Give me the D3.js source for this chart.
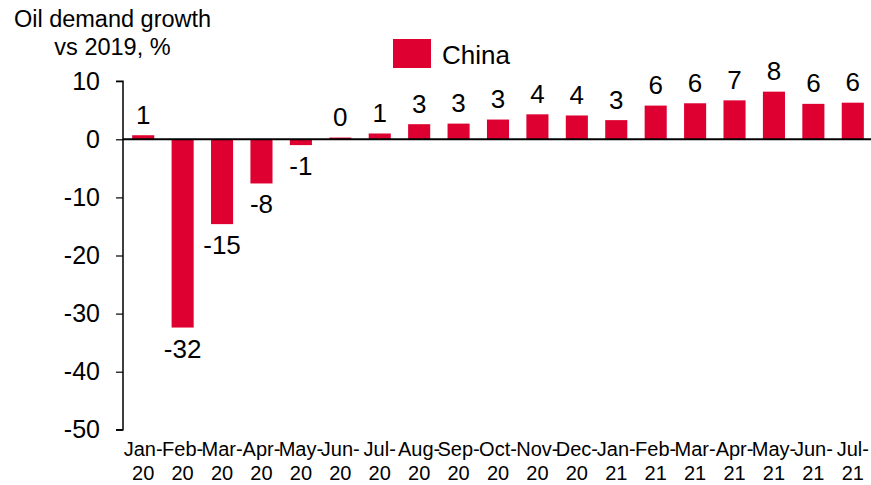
<!DOCTYPE html>
<html>
<head>
<meta charset="utf-8">
<script src="https://cdn.jsdelivr.net/npm/d3@7"></script>
<style>
  html, body { margin: 0; padding: 0; background: #fff; }
  svg { display: block; font-family: "Liberation Sans", Arial, sans-serif; }
</style>
</head>
<body>
<svg id="chart" width="871" height="485"></svg>
<script>
// Monthly oil demand growth in China vs the same month of 2019, %
const months = ["Jan", "Feb", "Mar", "Apr", "May", "Jun", "Jul", "Aug", "Sep", "Oct",
                "Nov", "Dec", "Jan", "Feb", "Mar", "Apr", "May", "Jun", "Jul"];
const years  = ["20", "20", "20", "20", "20", "20", "20", "20", "20", "20",
                "20", "20", "21", "21", "21", "21", "21", "21", "21"];
const china  = [0.7, -32.4, -14.6, -7.6, -1.0, 0.3, 1.0, 2.6, 2.7, 3.4,
                4.3, 4.1, 3.3, 5.8, 6.2, 6.7, 8.2, 6.1, 6.3];
const yTicks = [10, 0, -10, -20, -30, -40, -50];
const seriesName = "China";
const titleLines = ["Oil demand growth", "vs 2019, %"];

const RED = "#DD0031";
const svg = d3.select("#chart");

const keys = months.map((m, i) => i);
const x = d3.scaleBand()
  .domain(keys)
  .range([123.5, 872.5])
  .paddingInner(0.44)
  .paddingOuter(0.22);

const y = d3.scaleLinear()
  .domain([-50, 10])
  .range([429.8, 81.2]);

const fmt = v => String(Math.round(v));

// bars
svg.append("g")
  .selectAll("rect")
  .data(china)
  .join("rect")
  .attr("x", (d, i) => x(i))
  .attr("width", x.bandwidth())
  .attr("y", d => y(Math.max(0, d)))
  .attr("height", d => Math.abs(y(d) - y(0)))
  .attr("fill", RED);

// value labels: above positive bars, below negative ones
svg.append("g")
  .selectAll("text")
  .data(china)
  .join("text")
  .attr("x", (d, i) => x(i) + x.bandwidth() / 2)
  .attr("y", d => d >= 0 ? y(d) - 11.5 : y(d) + 30)
  .attr("text-anchor", "middle")
  .attr("font-size", 26)
  .attr("fill", "#000")
  .text(fmt);

// y axis
const yAxis = d3.axisLeft(y)
  .tickValues(yTicks)
  .tickSize(7)
  .tickPadding(16)
  .tickFormat(d => String(d));
const gy = svg.append("g")
  .attr("transform", "translate(123,0)")
  .call(yAxis);
gy.select(".domain").attr("stroke", "#000").attr("stroke-width", 1.5)
  .attr("d", `M-7,${y(10)}H0V${y(-50)}H-7`);
gy.selectAll(".tick line").attr("stroke", "#000").attr("stroke-width", 1.2);
gy.selectAll(".tick text")
  .attr("font-size", 25)
  .attr("font-family", "Liberation Sans, Arial, sans-serif")
  .attr("fill", "#000");

// zero line
svg.append("line")
  .attr("x1", 123).attr("x2", 871)
  .attr("y1", y(0)).attr("y2", y(0))
  .attr("stroke", "#000").attr("stroke-width", 2);

// category labels on two lines
const xl = svg.append("g")
  .selectAll("text")
  .data(keys)
  .join("text")
  .attr("text-anchor", "middle")
  .attr("font-size", 20)
  .attr("fill", "#000");
xl.append("tspan")
  .attr("x", i => x(i) + x.bandwidth() / 2)
  .attr("y", 456)
  .text(i => months[i] + "-");
xl.append("tspan")
  .attr("x", i => x(i) + x.bandwidth() / 2)
  .attr("y", 480)
  .text(i => years[i]);

// title
svg.append("text")
  .attr("text-anchor", "middle")
  .attr("font-size", 23.5)
  .attr("fill", "#000")
  .selectAll("tspan")
  .data(titleLines)
  .join("tspan")
  .attr("x", 112.5)
  .attr("y", (d, i) => 27 + i * 28)
  .text(d => d);

// legend
const lg = svg.append("g");
lg.append("rect")
  .attr("x", 393).attr("y", 39)
  .attr("width", 38).attr("height", 29)
  .attr("fill", RED);
lg.append("text")
  .attr("x", 442).attr("y", 64)
  .attr("font-size", 26)
  .attr("fill", "#000")
  .text(seriesName);
</script>
</body>
</html>
